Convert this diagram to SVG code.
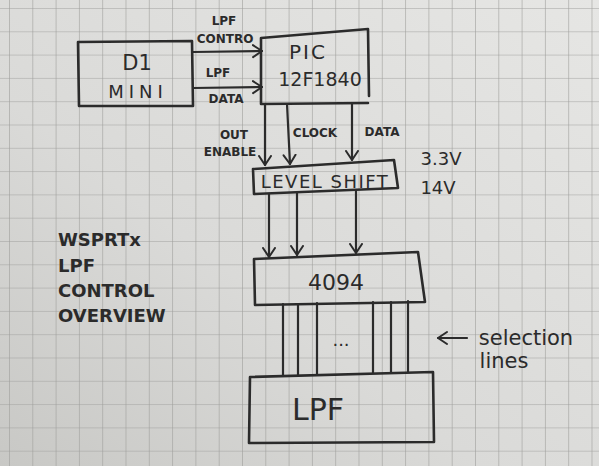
<svg xmlns="http://www.w3.org/2000/svg" width="599" height="466" viewBox="0 0 599 466">
<defs>
<linearGradient id="paper" x1="1" y1="0" x2="0" y2="1">
<stop offset="0" stop-color="#e6e6e4"/>
<stop offset="0.6" stop-color="#dadad8"/>
<stop offset="1" stop-color="#c8c8c5"/>
</linearGradient>
<pattern id="grid" x="9" y="8" width="23.3" height="23.3" patternUnits="userSpaceOnUse">
<path d="M0 0 V23.3 M0 0 H23.3" fill="none" stroke="#9f9f9d" stroke-width="1.2"/>
</pattern>
<marker id="v" viewBox="-10 -8 12 16" refX="0" refY="0" markerWidth="12" markerHeight="16" markerUnits="userSpaceOnUse" orient="auto">
<path d="M-9 -6 L0 0 L-9 6" fill="none" stroke="#2b2b2b" stroke-width="2" stroke-linecap="round" stroke-linejoin="round"/>
</marker>
</defs>
<style>
.box{fill:none;stroke:#2b2b2b;stroke-width:2.6;stroke-linejoin:round;stroke-linecap:round}
.ln{fill:none;stroke:#2b2b2b;stroke-width:2.2;stroke-linecap:round}
.ar{fill:none;stroke:#2b2b2b;stroke-width:2.2;stroke-linecap:round;marker-end:url(#v)}
text{font-family:"DejaVu Sans","Liberation Sans",sans-serif;fill:#2b2b2b;text-anchor:middle}
.s{font-size:12px;font-weight:bold}
.m{font-size:18px}
.t{font-size:18px;text-anchor:start;font-weight:bold}
</style>
<rect width="599" height="466" fill="url(#paper)"/>
<rect width="599" height="466" fill="url(#grid)"/>

<g id="connectors">
<path class="ar" d="M193 52 L262 51"/>
<path class="ar" d="M193 88 L262 87"/>
<path class="ar" d="M265 104 L265 165"/>
<path class="ar" d="M287 104 L290 164"/>
<path class="ar" d="M352 104 L352 160"/>
<path class="ar" d="M269 194 L269 257"/>
<path class="ar" d="M297 193 L297 255"/>
<path class="ar" d="M356 190 L356 253"/>
<path class="ln" d="M283 304 V375 M298 304 V375 M317 303 V374 M373 302 V373 M391 302 V373 M408 301 V372"/>
<path class="ar" d="M467 338 L438 338"/>
</g>

<g id="labels">
<text class="s" x="224" y="25" font-size="14">LPF</text>
<text class="s" x="225" y="43">CONTRO</text>
<text class="s" x="218" y="77" font-size="14">LPF</text>
<text class="s" x="226" y="103" font-size="15">DATA</text>
<text class="s" x="234" y="139">OUT</text>
<text class="s" x="230" y="156">ENABLE</text>
<text class="s" x="315" y="137">CLOCK</text>
<text class="s" x="382" y="136">DATA</text>
<text class="m" x="441" y="165">3.3V</text>
<text class="m" x="438" y="194">14V</text>
<text class="m" x="341" y="346" font-size="20">...</text>
<text x="526" y="345" font-size="21">selection</text>
<text x="504" y="368" font-size="21">lines</text>
</g>

<g id="title">
<text class="t" x="58" y="246" font-size="19">WSPRTx</text>
<text class="t" x="58" y="272">LPF</text>
<text class="t" x="58" y="297">CONTROL</text>
<text class="t" x="58" y="322">OVERVIEW</text>
</g>

<g id="d1mini">
<path class="box" d="M78 42 L192 41 L193 106 L79 106 Z"/>
<text x="137" y="70" font-size="21">D1</text>
<text x="138" y="98" font-size="18" letter-spacing="5">MINI</text>
</g>

<g id="pic">
<path class="box" d="M261 38 L368 29 L369 96 M261 38 L261 104 L368 103"/>
<text x="308" y="59" font-size="20" letter-spacing="2">PIC</text>
<text x="320" y="86" font-size="19">12F1840</text>
</g>

<g id="levelshift">
<path class="box" d="M253 169 L394 160 L398 188 L254 194 Z"/>
<text x="325" y="188" font-size="18" letter-spacing="1.5">LEVEL SHIFT</text>
</g>

<g id="ic4094">
<path class="box" d="M254 259 L418 252 L425 302 L255 305 Z"/>
<text x="336" y="290" font-size="22">4094</text>
</g>

<g id="lpf">
<path class="box" d="M250 377 L433 372 L434 442 L249 443 Z"/>
<text x="318" y="420" font-size="30">LPF</text>
</g>
</svg>
